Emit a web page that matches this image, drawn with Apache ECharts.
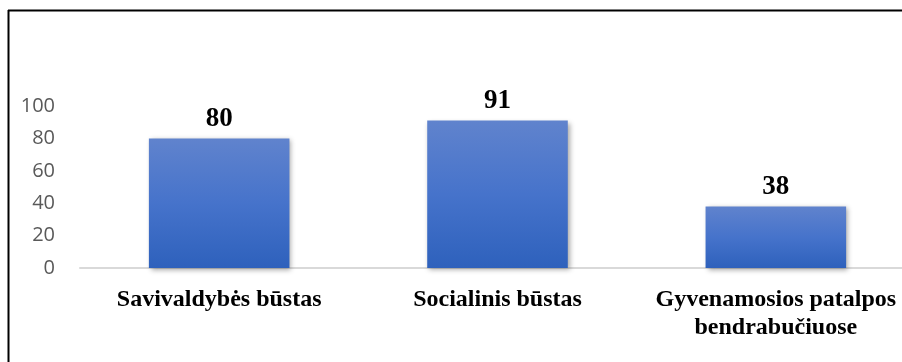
<!DOCTYPE html>
<html>
<head>
<meta charset="utf-8">
<script src="https://cdn.jsdelivr.net/npm/echarts@6/dist/echarts.min.js"></script>
<style>
  html, body { margin: 0; padding: 0; background: #fff; }
  #container { width: 902px; height: 362px; }
</style>
</head>
<body>
<div id="container"></div>
<script>
var categories = ['Savivaldybės būstas', 'Socialinis būstas', 'Gyvenamosios patalpos\nbendrabučiuose'];
var values = [80, 91, 38];
var yTicks = [0, 20, 40, 60, 80, 100];

window.onload = function () {
	var myChart = echarts.init(document.getElementById('container'));
	myChart.setOption({
		animation: false,
		// plotas išeina šiek tiek už dešinio krašto
		grid: { left: 80, right: -13, top: 106, bottom: 94, outerBoundsMode: 'none' },
		// rėmelis (tik viršus ir kairė)
		graphic: [
			{ type: 'line', shape: { x1: 8, y1: 10.5, x2: 902, y2: 10.5 }, style: { stroke: '#000', lineWidth: 2 } },
			{ type: 'line', shape: { x1: 8.5, y1: 10, x2: 8.5, y2: 362 }, style: { stroke: '#000', lineWidth: 2 } }
		],
		xAxis: {
			type: 'category',
			data: categories,
			axisTick: { show: false },
			axisLine: { lineStyle: { color: '#d9d9d9', width: 2 } },
			axisLabel: {
				interval: 0,
				margin: 18,
				fontFamily: '"Liberation Serif", "Times New Roman", serif',
				fontWeight: 'bold',
				fontSize: 24,
				lineHeight: 28,
				color: '#000'
			}
		},
		yAxis: {
			type: 'value',
			min: yTicks[0],
			max: yTicks[yTicks.length - 1],
			interval: yTicks[1] - yTicks[0],
			splitLine: { show: false },
			axisLine: { show: false },
			axisTick: { show: false },
			axisLabel: {
				margin: 25,
				fontFamily: '"Open Sans", sans-serif',
				fontSize: 20,
				color: '#595959'
			}
		},
		series: [{
			type: 'bar',
			data: values,
			barWidth: '50.5%',
			itemStyle: {
				color: new echarts.graphic.LinearGradient(0, 0, 0, 1, [
					{ offset: 0, color: '#6083cd' },
					{ offset: 0.5, color: '#4673cb' },
					{ offset: 1, color: '#2e61bc' }
				]),
				shadowColor: 'rgba(0,0,0,0.35)',
				shadowBlur: 5,
				shadowOffsetX: 2,
				shadowOffsetY: 2
			},
			label: {
				show: true,
				position: 'top',
				distance: 6,
				fontFamily: '"Liberation Serif", "Times New Roman", serif',
				fontWeight: 'bold',
				fontSize: 27,
				color: '#000'
			}
		}]
	});
};
</script>
</body>
</html>
